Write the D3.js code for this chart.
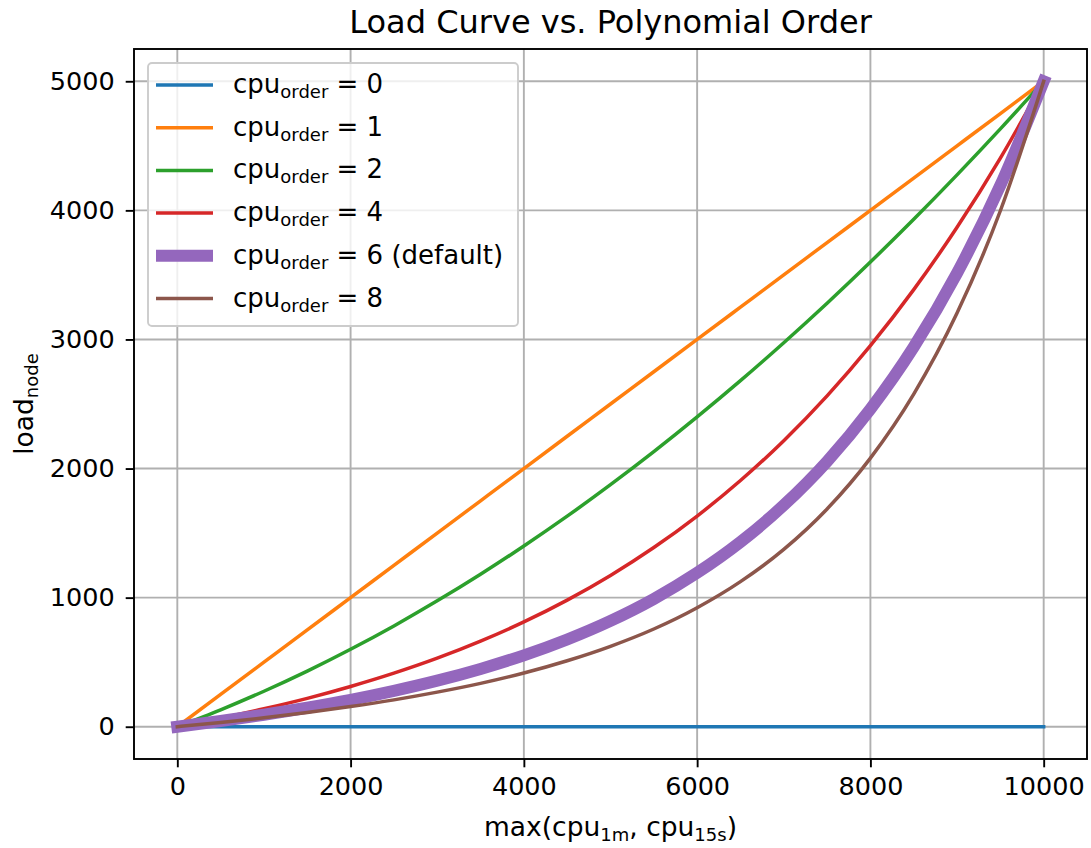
<!DOCTYPE html>
<html>
<head>
<meta charset="utf-8">
<script src="https://cdn.jsdelivr.net/npm/d3@7"></script>
<style>
  body { margin: 0; background: #fff; }
  text { font-family: "DejaVu Sans", sans-serif; fill: #000; }
</style>
</head>
<body>
<div id="chart"></div>
<script>
// cpu values sampled along the x axis
var cpu = [0, 500, 1000, 1500, 2000, 2500, 3000, 3500, 4000, 4500, 5000,
  5500, 6000, 6500, 7000, 7500, 8000, 8500, 9000, 9500, 10000];
// load at those cpu values
var order0 = [0, 0, 0, 0, 0, 0, 0, 0, 0, 0, 0, 0, 0, 0, 0, 0, 0, 0, 0, 0, 0];
var order1 = [0, 250, 500, 750, 1000, 1250, 1500, 1750, 2000, 2250, 2500,
  2750, 3000, 3250, 3500, 3750, 4000, 4250, 4500, 4750, 5000];
var order2 = [0, 131, 275, 431, 600, 781, 975, 1181, 1400, 1631, 1875,
  2131, 2400, 2681, 2975, 3281, 3600, 3931, 4275, 4631, 5000];
var order4 = [0, 66, 139, 220, 312, 415, 531, 663, 812, 981, 1172,
  1388, 1632, 1907, 2216, 2563, 2952, 3386, 3869, 4405, 5000];
var order6 = [0, 44, 93, 147, 208, 278, 357, 448, 553, 676, 820,
  990, 1192, 1431, 1716, 2055, 2460, 2941, 3514, 4194, 5000];
var order8 = [0, 33, 69, 110, 156, 208, 268, 336, 416, 511, 623,
  757, 922, 1124, 1374, 1687, 2081, 2577, 3204, 3997, 5000];
var orders = ["0", "1", "2", "4", "6", "8"];
var notes = ["", "", "", "", " (default)", ""];
var xTicks = [0, 2000, 4000, 6000, 8000, 10000];
var yTicks = [0, 1000, 2000, 3000, 4000, 5000];

var colours = ["#1f77b4", "#ff7f0e", "#2ca02c", "#d62728", "#9467bd", "#8c564b"];
var widths = [3.5, 3.5, 3.5, 3.5, 12, 3.5];
var seriesVals = [order0, order1, order2, order4, order6, order8];

var width = 1091, height = 848;
var mLeft = 134, mRight = 1087, mTop = 49, mBottom = 759;
var fs = 25.5, subFs = 18;

var svg = d3.select("#chart").append("svg")
  .attr("width", width).attr("height", height);

var x = d3.scaleLinear().domain([-500, 10500]).range([mLeft, mRight]);
var y = d3.scaleLinear().domain([-250, 5250]).range([mBottom, mTop]);

// grid
var grid = svg.append("g");
grid.selectAll(".gx").data(xTicks).enter().append("line")
  .attr("x1", d => x(d)).attr("x2", d => x(d))
  .attr("y1", mTop).attr("y2", mBottom)
  .attr("stroke", "#b0b0b0").attr("stroke-width", 1.9);
grid.selectAll(".gy").data(yTicks).enter().append("line")
  .attr("x1", mLeft).attr("x2", mRight)
  .attr("y1", d => y(d)).attr("y2", d => y(d))
  .attr("stroke", "#b0b0b0").attr("stroke-width", 1.9);

// curves
var line = d3.line()
  .x((d, i) => x(cpu[i]))
  .y(d => y(d))
  .curve(d3.curveMonotoneX);

var plot = svg.append("g");
plot.selectAll("path").data(seriesVals).enter().append("path")
  .attr("d", d => line(d))
  .attr("fill", "none")
  .attr("stroke", (d, i) => colours[i])
  .attr("stroke-width", (d, i) => widths[i])
  .attr("stroke-linecap", "square")
  .attr("stroke-linejoin", "round");

// axes
var xAxis = svg.append("g")
  .attr("transform", "translate(0," + mBottom + ")")
  .call(d3.axisBottom(x).tickValues(xTicks).tickSize(8.3).tickPadding(10).tickFormat(d3.format("d")));
var yAxis = svg.append("g")
  .attr("transform", "translate(" + mLeft + ",0)")
  .call(d3.axisLeft(y).tickValues(yTicks).tickSize(8.3).tickPadding(11).tickFormat(d3.format("d")));
[xAxis, yAxis].forEach(a => {
  a.select(".domain").remove();
  a.selectAll(".tick line").attr("stroke", "#000").attr("stroke-width", 1.9);
  a.selectAll("text").attr("font-size", fs).attr("font-family", "DejaVu Sans").attr("fill", "#000");
});

// frame
svg.append("rect")
  .attr("x", mLeft).attr("y", mTop)
  .attr("width", mRight - mLeft).attr("height", mBottom - mTop)
  .attr("fill", "none").attr("stroke", "#000").attr("stroke-width", 1.9);

// title and axis labels
svg.append("text")
  .attr("x", (mLeft + mRight) / 2).attr("y", 33)
  .attr("text-anchor", "middle").attr("font-size", 32)
  .text("Load Curve vs. Polynomial Order");

var xl = svg.append("text")
  .attr("x", (mLeft + mRight) / 2).attr("y", 836)
  .attr("text-anchor", "middle").attr("font-size", 26.5);
xl.append("tspan").text("max(cpu");
xl.append("tspan").attr("font-size", subFs).attr("dy", 5).text("1m");
xl.append("tspan").attr("dy", -5).text(", cpu");
xl.append("tspan").attr("font-size", subFs).attr("dy", 5).text("15s");
xl.append("tspan").attr("dy", -5).text(")");

var yl = svg.append("text")
  .attr("transform", "translate(33," + ((mTop + mBottom) / 2) + ") rotate(-90)")
  .attr("text-anchor", "middle").attr("font-size", 26.5);
yl.append("tspan").text("load");
yl.append("tspan").attr("font-size", subFs).attr("dy", 5).text("node");

// legend
var lg = svg.append("g");
lg.append("rect")
  .attr("x", 148).attr("y", 63).attr("width", 370).attr("height", 263)
  .attr("rx", 4)
  .attr("fill", "#fff").attr("fill-opacity", 0.8)
  .attr("stroke", "#cccccc").attr("stroke-width", 1.9);

var items = lg.selectAll(".item").data(orders).enter().append("g")
  .attr("transform", (d, i) => "translate(0," + (85 + i * 42.7) + ")");
items.append("line")
  .attr("x1", 156).attr("x2", 213)
  .attr("stroke", (d, i) => colours[i])
  .attr("stroke-width", (d, i) => widths[i]);
var lt = items.append("text")
  .attr("x", 233).attr("y", 8)
  .attr("font-size", 26);
lt.append("tspan").text("cpu");
lt.append("tspan").attr("font-size", subFs).attr("dy", 5).text("order");
lt.append("tspan").attr("dy", -5).text((d, i) => " = " + d + notes[i]);
</script>
</body>
</html>
